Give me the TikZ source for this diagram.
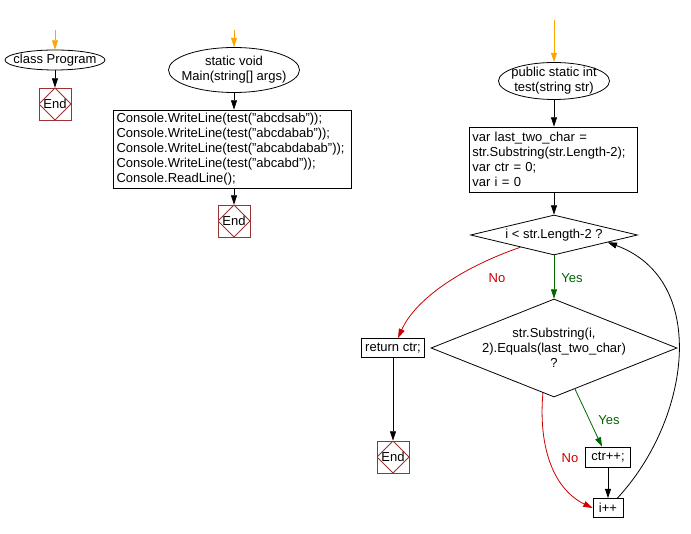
\documentclass[tikz,border=0pt]{standalone}
\usepackage{fontspec}
\setmainfont{Liberation Sans}
\usetikzlibrary{shapes.geometric,arrows.meta,calc}
\definecolor{flowred}{RGB}{204,0,0}
\definecolor{flowgreen}{RGB}{0,102,0}
\definecolor{floworange}{RGB}{255,165,0}
\definecolor{endred}{RGB}{153,51,51}
\tikzset{
  arrow/.style={-{Triangle[length=7pt,width=4.5pt]}},
  startarrow/.style={arrow,draw=floworange},
  yesarrow/.style={arrow,draw=flowgreen},
  noarrow/.style={arrow,draw=flowred},
  term/.style={ellipse,draw,inner sep=0pt},
  proc/.style={rectangle,draw,align=left,inner xsep=2.5pt,inner ysep=2pt},
  decide/.style={diamond,draw,inner sep=0pt},
  endbox/.style={rectangle,draw=endred,minimum size=24pt,inner sep=0pt,
    path picture={\draw[endred] (path picture bounding box.north) -- (path picture bounding box.east)
      -- (path picture bounding box.south) -- (path picture bounding box.west) -- cycle;}},
  yeslbl/.style={text=flowgreen},
  nolbl/.style={text=flowred}
}
\begin{document}
\begin{tikzpicture}[x=0.75pt,y=-0.75pt,line width=0.6pt,font=\fontsize{9.75}{11.25}\selectfont]
\useasboundingbox (0,0) rectangle (691,534);
% class Program
\coordinate (p0) at (55,30);
\node[term,minimum width=75pt,minimum height=15pt,label=center:{class Program}] (prog) at (55,60) {};
\node[endbox] (progend) at (55,104) {End};
\draw[startarrow] (p0) -- (prog);
\draw[arrow] (prog) -- (progend);

% Main
\coordinate (m0) at (234,30);
\node[term,minimum width=98.25pt,minimum height=33.75pt,
  label={[align=center]center:{static void\\Main(string[] args)}}] (mainfn) at (234,70) {};
\node[proc,text width=174pt,minimum height=58.5pt] (mainbody) at (232.5,149)
  {Console.WriteLine(test("abcdsab"));\\
   Console.WriteLine(test("abcdabab"));\\
   Console.WriteLine(test("abcabdabab"));\\
   Console.WriteLine(test("abcabd"));\\
   Console.ReadLine();};
\node[endbox] (mainend) at (234,221) {End};
\draw[startarrow] (m0) -- (mainfn);
\draw[arrow] (mainfn) -- (mainfn |- mainbody.north);
\draw[arrow] (mainfn |- mainbody.south) -- (mainend);

% test
\coordinate (t0) at (554,20);
\node[term,minimum width=83.25pt,minimum height=27.75pt,
  label={[align=center]center:{public static int\\test(string str)}}] (testfn) at (554,81) {};
\node[proc,text width=121pt,minimum height=48.75pt] (init) at (553,159.5)
  {var last\_two\_char =\\
   str.Substring(str.Length-2);\\
   var ctr = 0;\\
   var i = 0};
\node[decide,minimum width=125.25pt,minimum height=30pt,
  label=center:{i < str.Length-2 ?}] (loop) at (554,235) {};
\node[decide,minimum width=184.5pt,minimum height=73.5pt,
  label={[align=center]center:{str.Substring(i,\\2).Equals(last\_two\_char)\\?}}] (match) at (554,348) {};
\node[proc,minimum width=47.25pt,minimum height=14.25pt] (ret) at (393,348) {return ctr;};
\node[endbox] (retend) at (393,457) {End};
\node[proc,minimum width=33.75pt,minimum height=15pt] (inc) at (608,457) {ctr++;};
\node[proc,minimum width=22.5pt,minimum height=14.25pt] (next) at (608,508) {i++};

\draw[startarrow] (t0) -- (testfn);
\draw[arrow] (testfn) -- (testfn |- init.north);
\draw[arrow] (testfn |- init.south) -- (loop.north);
\draw[yesarrow] (loop.south) -- (match.north);
\draw[noarrow] ($(loop.west)!0.6!(loop.south)$) .. controls (460,268) and (415,300) .. ([xshift=3.75pt]ret.north);
\draw[arrow] (ret) -- (retend);
\draw[yesarrow] ($(match.south)!0.17!(match.east)$) -- ([xshift=-4.5pt]inc.north);
\draw[noarrow] ($(match.west)!0.91!(match.south)$) .. controls (538,450) and (555,490) .. (next.west);
\draw[arrow] (inc) -- (next);
\draw[arrow] ([xshift=-4.5pt]next.north east) .. controls (690,420) and (710,280) .. ($(loop.east)!0.36!(loop.south)$);

\node[nolbl] (no1) at (497,278) {No};
\node[yeslbl] (yes1) at (572,278) {Yes};
\node[yeslbl] (yes2) at (609,420) {Yes};
\node[nolbl] (no2) at (570,458) {No};
\end{tikzpicture}
\end{document}
